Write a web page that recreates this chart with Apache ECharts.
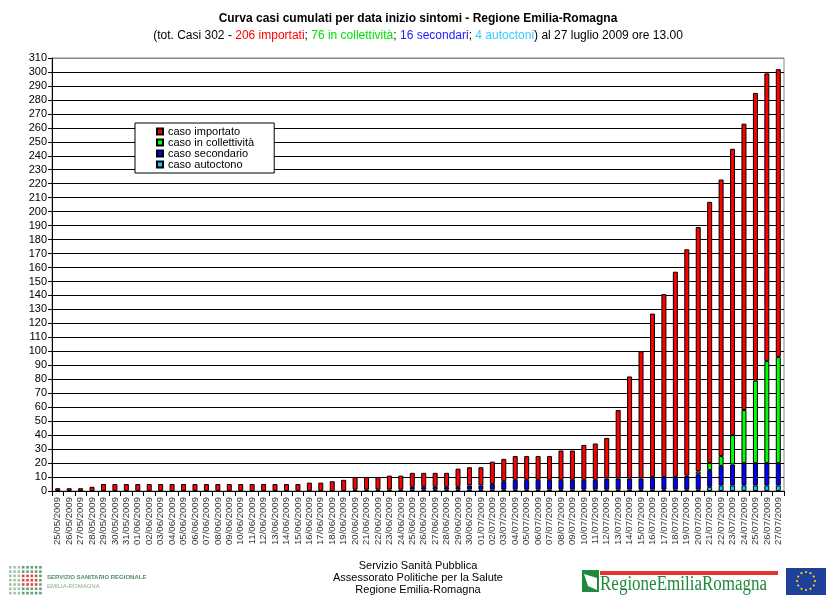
<!DOCTYPE html>
<html>
<head>
<meta charset="utf-8">
<script src="https://cdn.jsdelivr.net/npm/echarts@6/dist/echarts.min.js"></script>
<style>
html,body{margin:0;padding:0;background:#fff;}
#chart{width:836px;height:603px;}
</style>
</head>
<body>
<div id="chart"></div>
<script>
// ---- data ----
var categories = [
'25/05/2009','26/05/2009','27/05/2009','28/05/2009','29/05/2009','30/05/2009','31/05/2009',
'01/06/2009','02/06/2009','03/06/2009','04/06/2009','05/06/2009','06/06/2009','07/06/2009',
'08/06/2009','09/06/2009','10/06/2009','11/06/2009','12/06/2009','13/06/2009','14/06/2009',
'15/06/2009','16/06/2009','17/06/2009','18/06/2009','19/06/2009','20/06/2009','21/06/2009',
'22/06/2009','23/06/2009','24/06/2009','25/06/2009','26/06/2009','27/06/2009','28/06/2009',
'29/06/2009','30/06/2009','01/07/2009','02/07/2009','03/07/2009','04/07/2009','05/07/2009',
'06/07/2009','07/07/2009','08/07/2009','09/07/2009','10/07/2009','11/07/2009','12/07/2009',
'13/07/2009','14/07/2009','15/07/2009','16/07/2009','17/07/2009','18/07/2009','19/07/2009',
'20/07/2009','21/07/2009','22/07/2009','23/07/2009','24/07/2009','25/07/2009','26/07/2009',
'27/07/2009'];

var casoImportato = [
2,2,2,3,5,5,5,
5,5,5,5,5,5,5,
5,5,5,5,5,5,5,
5,6,6,7,8,9,9,
9,10,10,10,10,10,10,
13,13,13,16,16,17,17,
17,17,21,21,25,26,29,
49,73,91,117,131,147,162,
175,187,198,205,205,206,206,
206];

var casoCollettivita = [
0,0,0,0,0,0,0,
0,0,0,0,0,0,0,
0,0,0,0,0,0,0,
0,0,0,0,0,0,0,
0,0,0,0,0,0,0,
0,0,0,0,0,0,0,
0,0,0,0,0,0,0,
0,0,0,0,0,0,1,
2,5,7,21,38,59,73,
76];

var casoSecondario = [
0,0,0,0,0,0,0,
0,0,0,0,0,0,0,
0,0,0,0,0,0,0,
0,0,0,0,0,0,0,
0,0,0,2,2,2,2,
2,3,3,4,6,7,7,
7,7,7,7,7,7,8,
8,8,8,9,9,9,9,
11,12,14,15,16,16,16,
16];

var casoAutoctono = [
0,0,0,0,0,0,0,
0,0,0,0,0,0,0,
0,0,0,0,0,0,0,
0,0,0,0,0,1,1,
1,1,1,1,1,1,1,
1,1,1,1,1,1,1,
1,1,1,1,1,1,1,
1,1,1,1,1,1,1,
1,3,4,4,4,4,4,
4];

var yMin = 0, yMax = 310, yStep = 10;

function nz(arr){ return arr.map(function(v){ return v === 0 ? null : v; }); }

var FONT = '"Liberation Sans", Arial, sans-serif';
var chart = echarts.init(document.getElementById('chart'), null, {renderer:'canvas'});

// split line colours: black, with the top one grey like the plot frame
var nLines = (yMax - yMin) / yStep + 1;
var splitColors = [];
for (var k = 0; k < nLines; k++) { splitColors.push(k === nLines - 1 ? '#888' : '#000'); }

// decorative logo dots (left footer logo)
var logoDots = [];
for (var r = 0; r < 7; r++) {
  for (var c = 0; c < 8; c++) {
    var red = (r >= 2 && r <= 4 && c >= 3 && c <= 6);
    logoDots.push({
      type:'rect', shape:{x: 9 + c*4.3, y: 566 + r*4.3, width:2.6, height:2.6},
      style:{fill: red ? '#e0463c' : (c < 3 ? '#9fc4a8' : '#5f9f73')}, silent:true
    });
  }
}
// EU flag stars
var euStars = [];
for (var s = 0; s < 12; s++) {
  var a = s * Math.PI / 6;
  euStars.push({type:'circle', shape:{cx: 806 + 9*Math.cos(a), cy: 581 + 9*Math.sin(a), r:1.1}, style:{fill:'#ffdd00'}, silent:true});
}

var option = {
  animation:false,
  backgroundColor:'#fff',
  title:[{
    text:'Curva casi cumulati per data inizio sintomi - Regione Emilia-Romagna',
    left:'center', top:8,
    textStyle:{fontFamily:FONT, fontSize:12, fontWeight:'bold', color:'#000'}
  },{
    text:'{k|(tot. Casi 302 - }{r|206 importati}{k|; }{g|76 in collettività}{k|; }{b|16 secondari}{k|; }{c|4 autoctoni}{k|) al 27 luglio 2009 ore 13.00}',
    left:'center', top:25,
    textStyle:{
      fontFamily:FONT, fontSize:12, fontWeight:'normal', color:'#000',
      rich:{
        k:{fontFamily:FONT, fontSize:12, color:'#000'},
        r:{fontFamily:FONT, fontSize:12, color:'#ff0000'},
        g:{fontFamily:FONT, fontSize:12, color:'#00e000'},
        b:{fontFamily:FONT, fontSize:12, color:'#2020ff'},
        c:{fontFamily:FONT, fontSize:12, color:'#33ccff'}
      }
    }
  }],
  legend:{
    orient:'vertical', left:135, top:123,
    data:['caso importato','caso in collettività','caso secondario','caso autoctono'],
    icon:'rect', itemWidth:6, itemHeight:6, itemGap:0,
    padding:[3, 20, 3, 21],
    backgroundColor:'#fff', borderColor:'#000', borderWidth:1,
    textStyle:{fontFamily:FONT, fontSize:11, color:'#000', lineHeight:11}
  },
  grid:{left:52, right:52, top:58, bottom:112, show:true, borderColor:'#888', borderWidth:1, backgroundColor:'transparent'},
  xAxis:{
    type:'category', data:categories,
    axisLine:{lineStyle:{color:'#000', width:1}},
    axisTick:{show:true, length:5, lineStyle:{color:'#000'}},
    axisLabel:{rotate:90, interval:0, fontFamily:FONT, fontSize:9.6, color:'#333', margin:6}
  },
  yAxis:{
    type:'value', min:yMin, max:yMax, interval:yStep,
    axisLine:{show:true, lineStyle:{color:'#000', width:1}},
    axisTick:{show:true, length:4, lineStyle:{color:'#000'}},
    axisLabel:{fontFamily:FONT, fontSize:11, color:'#000', margin:5},
    splitLine:{show:true, lineStyle:{color:splitColors, width:1}}
  },
  series:[
    {name:'caso autoctono', type:'bar', stack:'tot', data:nz(casoAutoctono), barWidth:5,
      itemStyle:{color:'#00ccff', borderColor:'#000', borderWidth:1}},
    {name:'caso secondario', type:'bar', stack:'tot', data:nz(casoSecondario), barWidth:5,
      itemStyle:{color:'#0000ff', borderColor:'#000', borderWidth:1}},
    {name:'caso in collettività', type:'bar', stack:'tot', data:nz(casoCollettivita), barWidth:5,
      itemStyle:{color:'#00ff00', borderColor:'#000', borderWidth:1}},
    {name:'caso importato', type:'bar', stack:'tot', data:nz(casoImportato), barWidth:5,
      itemStyle:{color:'#ff0000', borderColor:'#000', borderWidth:1}}
  ],
  graphic:[
    {type:'text', left:'center', top:560, style:{text:'Servizio Sanità Pubblica', font:'11px '+FONT, fill:'#000'}, silent:true},
    {type:'text', left:'center', top:572, style:{text:'Assessorato Politiche per la Salute', font:'11px '+FONT, fill:'#000'}, silent:true},
    {type:'text', left:'center', top:584, style:{text:'Regione Emilia-Romagna', font:'11px '+FONT, fill:'#000'}, silent:true},
    // left logo
    {type:'group', silent:true, children: logoDots.concat([
      {type:'text', x:47, y:574, style:{text:'SERVIZIO SANITARIO REGIONALE', font:'bold 6px '+FONT, fill:'#4d8f63'}},
      {type:'text', x:47, y:583, style:{text:'EMILIA-ROMAGNA', font:'6px '+FONT, fill:'#8aa895'}}
    ])},
    // right logo
    {type:'group', silent:true, children:[
      {type:'rect', shape:{x:582, y:570, width:17, height:22}, style:{fill:'#1f8a3c'}},
      {type:'polygon', shape:{points:[[584,574],[597,578],[597,590],[588,586]]}, style:{fill:'#fff'}},
      {type:'rect', shape:{x:600, y:571, width:178, height:4}, style:{fill:'#e8322d'}},
      {type:'text', x:600, y:575, scaleX:0.85, originX:0, style:{text:'RegioneEmiliaRomagna', font:'20px "Liberation Serif", "DejaVu Serif", serif', fill:'#1f8a3c'}},
      {type:'rect', shape:{x:786, y:568, width:40, height:27}, style:{fill:'#1e3f9a'}}
    ].concat(euStars)}
  ]
};
chart.setOption(option);
</script>
</body>
</html>
